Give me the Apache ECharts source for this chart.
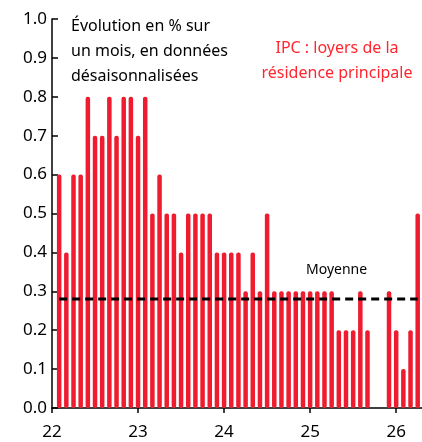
<!DOCTYPE html>
<html>
<head>
<meta charset="utf-8">
<script src="https://cdn.jsdelivr.net/npm/echarts@6/dist/echarts.min.js"></script>
<style>
  html, body { margin: 0; padding: 0; background: #fff; }
  #chart { width: 422px; height: 442px; }
</style>
</head>
<body>
<div id="chart"></div>
<script>
// mois (fin de mois) de janv. 2022 à mars 2026
const mois = [
  '2022-01','2022-02','2022-03','2022-04','2022-05','2022-06','2022-07','2022-08','2022-09','2022-10','2022-11','2022-12',
  '2023-01','2023-02','2023-03','2023-04','2023-05','2023-06','2023-07','2023-08','2023-09','2023-10','2023-11','2023-12',
  '2024-01','2024-02','2024-03','2024-04','2024-05','2024-06','2024-07','2024-08','2024-09','2024-10','2024-11','2024-12',
  '2025-01','2025-02','2025-03','2025-04','2025-05','2025-06','2025-07','2025-08','2025-09','2025-10','2025-11','2025-12',
  '2026-01','2026-02','2026-03'
];
// évolution mensuelle en %, données CVS
const loyers = [
  0.6, 0.4, 0.6, 0.6, 0.8, 0.7, 0.7, 0.8, 0.7, 0.8, 0.8, 0.7,
  0.8, 0.5, 0.6, 0.5, 0.5, 0.4, 0.5, 0.5, 0.5, 0.5, 0.4, 0.4,
  0.4, 0.4, 0.3, 0.4, 0.3, 0.5, 0.3, 0.3, 0.3, 0.3, 0.3, 0.3,
  0.3, 0.3, 0.3, 0.2, 0.2, 0.2, 0.3, 0.2, null, null, 0.3, 0.2,
  0.1, 0.2, 0.5
];
const moyenne = 0.28;
const xTicks = [22, 23, 24, 25, 26];

const ROUGE = '#ee1c2e';

// position sur l'axe : année (2 chiffres) + mois/12
function toX(m) {
  const [a, mm] = m.split('-').map(Number);
  return (a - 2000) + mm / 12;
}

const barData = mois.map((m, i) => [toX(m), loyers[i]]);
const avgData = [[toX(mois[0]), moyenne], [toX(mois[mois.length - 1]), moyenne]];

const option = {
  animation: false,
  textStyle: { fontFamily: 'Noto Sans' },
  grid: { left: 52, right: 0, top: 19, bottom: 34 },
  xAxis: {
    type: 'value',
    min: 22,
    max: 26.3,
    interval: 1,
    splitLine: { show: false },
    axisLine: { show: true, lineStyle: { color: '#000', width: 1.5 } },
    axisTick: { show: true, length: 5, customValues: xTicks, lineStyle: { color: '#000', width: 1.5 } },
    axisLabel: {
      customValues: xTicks,
      color: '#000', fontSize: 17, margin: 16,
      formatter: v => String(v)
    }
  },
  yAxis: {
    type: 'value',
    min: 0,
    max: 1,
    interval: 0.1,
    splitLine: { show: false },
    axisLine: { show: true, lineStyle: { color: '#000', width: 1.5 } },
    axisTick: { show: true, inside: true, length: 6, lineStyle: { color: '#000', width: 1.5 } },
    axisLabel: {
      color: '#000', fontSize: 17, margin: 5,
      formatter: v => v.toFixed(1)
    }
  },
  series: [
    {
      name: 'IPC loyers',
      type: 'bar',
      data: barData,
      barWidth: 4.5,
      itemStyle: { color: ROUGE, borderRadius: 2 }
    },
    {
      name: 'Moyenne',
      type: 'line',
      data: avgData,
      symbol: 'none',
      z: 5,
      lineStyle: { color: '#000', width: 3, type: [8, 5] }
    }
  ],
  graphic: [
    {
      type: 'text', left: 71, top: 14,
      style: {
        text: 'Évolution en % sur\nun mois, en données\ndésaisonnalisées',
        fill: '#000', font: '16px "Noto Sans"', lineHeight: 25
      }
    },
    {
      type: 'text', x: 337, y: 36,
      style: {
        text: 'IPC : loyers de la\nrésidence principale',
        fill: '#ff2630', font: '16px "Noto Sans"', lineHeight: 25, align: 'center'
      }
    },
    {
      type: 'text', left: 306, top: 263,
      style: { text: 'Moyenne', fill: '#000', font: '14px "Noto Sans"' }
    }
  ]
};

const chart = echarts.init(document.getElementById('chart'));
chart.setOption(option);
</script>
</body>
</html>
